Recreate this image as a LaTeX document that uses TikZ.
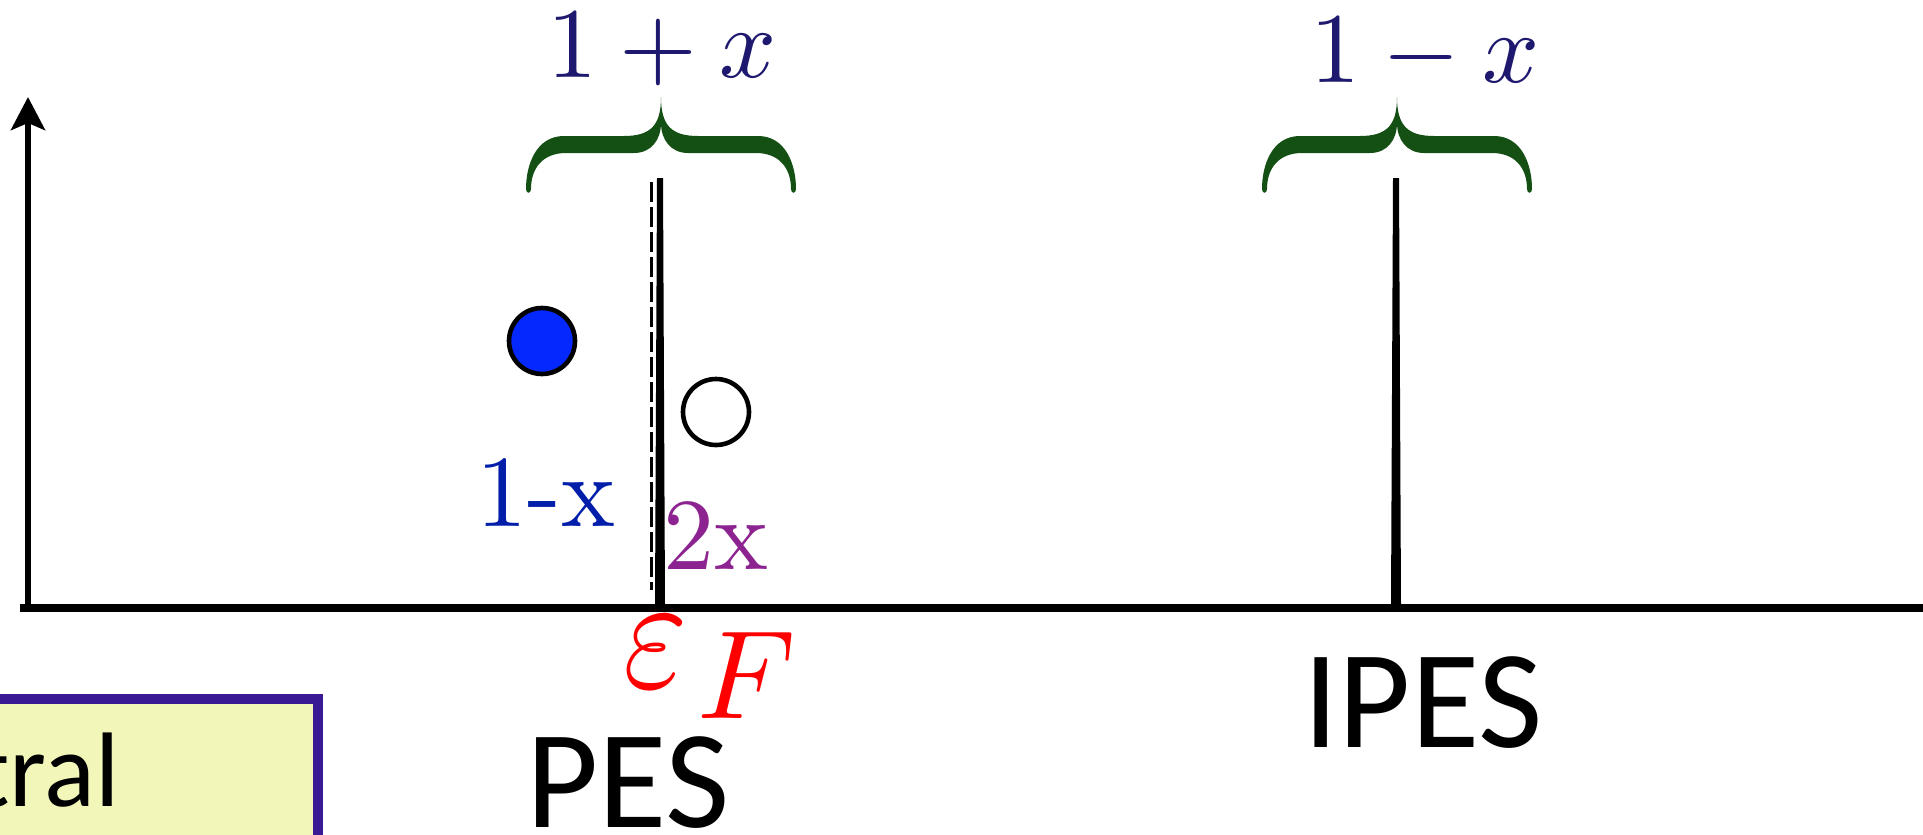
\documentclass[tikz,border=0pt]{standalone}
\usepackage{fontspec}
\usepackage{graphicx}
\newfontfamily\labelfont{Carlito}
\newfontfamily\numfont{lmroman10-regular}[Extension=.otf]
\usetikzlibrary{arrows.meta}
\definecolor{navy}{RGB}{30,25,110}
\definecolor{bracegreen}{RGB}{20,80,20}
\definecolor{oneblue}{RGB}{0,30,170}
\definecolor{twopurple}{RGB}{140,35,145}
\definecolor{dotblue}{RGB}{5,40,255}
\definecolor{boxfill}{RGB}{242,246,184}
\definecolor{boxedge}{RGB}{58,26,148}
\tikzset{
  curlybrace/.pic={
    \fill[bracegreen] (0,97) .. controls (0,125) and (-10,136) .. (-37,136) -- (-97,136)
      .. controls (-125,136) and (-135,165) .. (-135,189)
      .. controls (-135,194) and (-130,194) .. (-130,189)
      .. controls (-130,168) and (-118,153) .. (-95,153) -- (-27,153)
      .. controls (-10,153) and (0,140) .. (0,123)
      .. controls (0,140) and (10,153) .. (27,153) -- (95,153)
      .. controls (118,153) and (130,168) .. (130,189)
      .. controls (130,194) and (135,194) .. (135,189)
      .. controls (135,165) and (125,136) .. (97,136) -- (37,136)
      .. controls (10,136) and (0,125) .. (0,97) -- cycle;
  },
  peak/.style={fill=black},
  dot/.style={circle, draw=black, line width=2.3pt, minimum size=33pt, inner sep=0pt},
  bigmath/.style={text=navy, inner sep=0pt, anchor=base},
  serifnum/.style={inner sep=0pt, anchor=base, font=\numfont\fontsize{51}{60}\selectfont},
  speclabel/.style={inner sep=0pt, anchor=base west, font=\labelfont\fontsize{70}{80}\selectfont},
}
\begin{document}
\begin{tikzpicture}[x=0.5pt,y=-0.5pt]
\useasboundingbox (0,0) rectangle (1923,835);
\clip (0,0) rectangle (1923,835);
\fill[white] (0,0) rectangle (1923,835);
% axes
\coordinate (xend) at (1940,608);
\coordinate (xstart) at (20,608);
\coordinate (ybot) at (28,612);
\coordinate (ytop) at (28,97);
\draw[line width=3.6pt] (xstart) -- (xend);
\draw[line width=3pt, -{Stealth[length=16.5pt,width=17pt,inset=3.5pt]}] (ybot) -- (ytop);
% peaks
\fill[peak] (657,178) -- (663,178) -- (665,605) -- (655,605) -- cycle;
\fill[peak] (1393,178) -- (1399,178) -- (1401,605) -- (1391,605) -- cycle;
\coordinate (dtop) at (651.5,182);
\coordinate (dbot) at (651.5,590);
\draw[line width=1.6pt, dash pattern=on 10pt off 2.5pt] (dtop) -- (dbot);
% braces
\pic at (661,0) {curlybrace};
\pic at (1397,0) {curlybrace};
\node[bigmath] (plabel) at (662,77) {\scalebox{5}{\normalsize$1+x$}};
\node[bigmath] (mlabel) at (1425,83) {\scalebox{5}{\normalsize$1-x$}};
% circles
\node[dot, fill=dotblue] (filled) at (542,341) {};
\node[dot, fill=white] (empty) at (716,412) {};
% numbers
\node[serifnum, text=oneblue] (onex) at (546,526) {1-x};
\node[serifnum, text=twopurple] (twox) at (716,569) {2x};
% fermi level
\node[text=red, inner sep=0pt, anchor=base] (eps) at (656,687) {\scalebox{6.9}[8.2]{\normalsize$\varepsilon$}};
\node[text=red, inner sep=0pt, anchor=base west] (fF) at (697,718) {\scalebox{6.3}{\normalsize$F$}};
% labels
\node[speclabel] (pes) at (526,827) {PES};
\node[speclabel] (ipes) at (1303,747) {IPES};
% box
\draw[boxedge, fill=boxfill, line width=5pt] (-30,699) rectangle (318,880);
\node[inner sep=0pt, anchor=base east, font=\labelfont\fontsize{53}{60}\selectfont] (tral) at (120,806) {tral};
\end{tikzpicture}
\end{document}
